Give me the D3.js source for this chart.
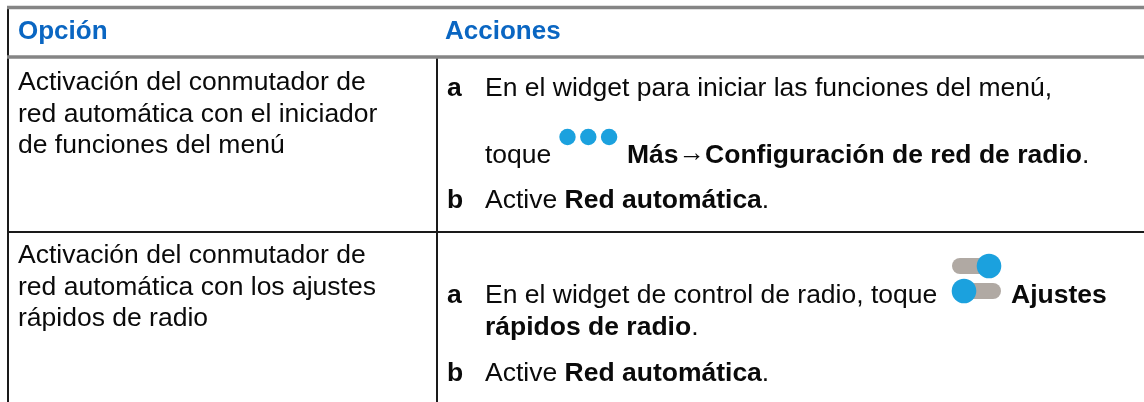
<!DOCTYPE html>
<html>
<head>
<meta charset="utf-8">
<script src="https://cdnjs.cloudflare.com/ajax/libs/d3/7.8.5/d3.min.js"></script>
<style>
  body { margin: 0; background: #fff; }
  svg { filter: blur(0.35px); }
  text { font-family: "Liberation Sans", Arial, sans-serif; font-size: 26.5px; fill: #0a0a0a; }
  .head { font-weight: bold; fill: #0a66c2; font-size: 26px; }
  .step { font-weight: bold; }
</style>
</head>
<body>
<div id="chart"></div>
<script>
const headers = ['Opción', 'Acciones']
const optionRows = [
  ['Activación del conmutador de', 'red automática con el iniciador', 'de funciones del menú'],
  ['Activación del conmutador de', 'red automática con los ajustes', 'rápidos de radio']
]
const stepLetters = ['a', 'b', 'a', 'b']
// each run is [text, bold]
const stepLines = [
  [['En el widget para iniciar las funciones del menú,', false]],
  [['toque', false]],
  [['Más', true], ['→', false], ['Configuración de red de radio', true], ['.', false]],
  [['Active ', false], ['Red automática', true], ['.', false]],
  [['En el widget de control de radio, toque', false]],
  [['Ajustes', true]],
  [['rápidos de radio', true], ['.', false]],
  [['Active ', false], ['Red automática', true], ['.', false]]
]

const width = 1144
const height = 402
const colX = [18, 445]
const grey = '#858585'
const dark = '#1a1a1a'
const blue = '#1ba1de'
const track = '#b0a9a3'

const svg = d3.select('#chart').append('svg')
  .attr('width', width)
  .attr('height', height)
  .style('display', 'block')

// rules
const rule = (x1, y1, x2, y2, color, w) => svg.append('line')
  .attr('x1', x1).attr('y1', y1).attr('x2', x2).attr('y2', y2)
  .attr('stroke', color).attr('stroke-width', w)

rule(8, 6, 8, height, dark, 2)
rule(437, 58, 437, height, dark, 2)
rule(7, 232, width, 232, dark, 2)
rule(7, 7.5, width, 7.5, grey, 3.5)
rule(7, 57, width, 57, grey, 3.5)

svg.selectAll('.head')
  .data(headers)
  .enter().append('text')
  .attr('class', 'head')
  .attr('x', (d, i) => colX[i])
  .attr('y', 39)
  .text(d => d)

// left column
const optionY = [[90, 122, 153], [263, 295, 326]]
optionRows.forEach((lines, r) => {
  svg.selectAll(`.opt-${r}`)
    .data(lines)
    .enter().append('text')
    .attr('class', `opt-${r}`)
    .attr('x', colX[0])
    .attr('y', (d, i) => optionY[r][i])
    .text(d => d)
})

// right column
const letterY = [96, 208, 303, 381]
svg.selectAll('.step')
  .data(stepLetters)
  .enter().append('text')
  .attr('class', 'step')
  .attr('x', 447)
  .attr('y', (d, i) => letterY[i])
  .text(d => d)

const lineX = [485, 485, 627, 485, 485, 1011, 485, 485]
const lineY = [96, 163, 163, 208, 303, 303, 335, 381]
stepLines.forEach((runs, i) => {
  const t = svg.append('text').attr('x', lineX[i]).attr('y', lineY[i])
  runs.forEach((run, j) => {
    // arrow sits a little higher than the font puts it
    const prev = j > 0 ? runs[j - 1][0] : ''
    t.append('tspan')
      .attr('font-weight', run[1] ? 'bold' : 'normal')
      .attr('dy', run[0] === '→' ? -2.5 : prev === '→' ? 2.5 : 0)
      .text(run[0])
  })
})

// "more" icon
svg.selectAll('.dot')
  .data([0, 1, 2])
  .enter().append('circle')
  .attr('cx', d => 567.5 + d * 20.8)
  .attr('cy', 137)
  .attr('r', 8.2)
  .attr('fill', blue)

// quick settings icon
const toggle = (y, knobX) => {
  svg.append('rect').attr('x', 952).attr('y', y - 8)
    .attr('width', 49).attr('height', 16).attr('rx', 8).attr('fill', track)
  svg.append('circle').attr('cx', knobX).attr('cy', y).attr('r', 12.3).attr('fill', blue)
}
toggle(266, 989)
toggle(291, 964)
</script>
</body>
</html>
